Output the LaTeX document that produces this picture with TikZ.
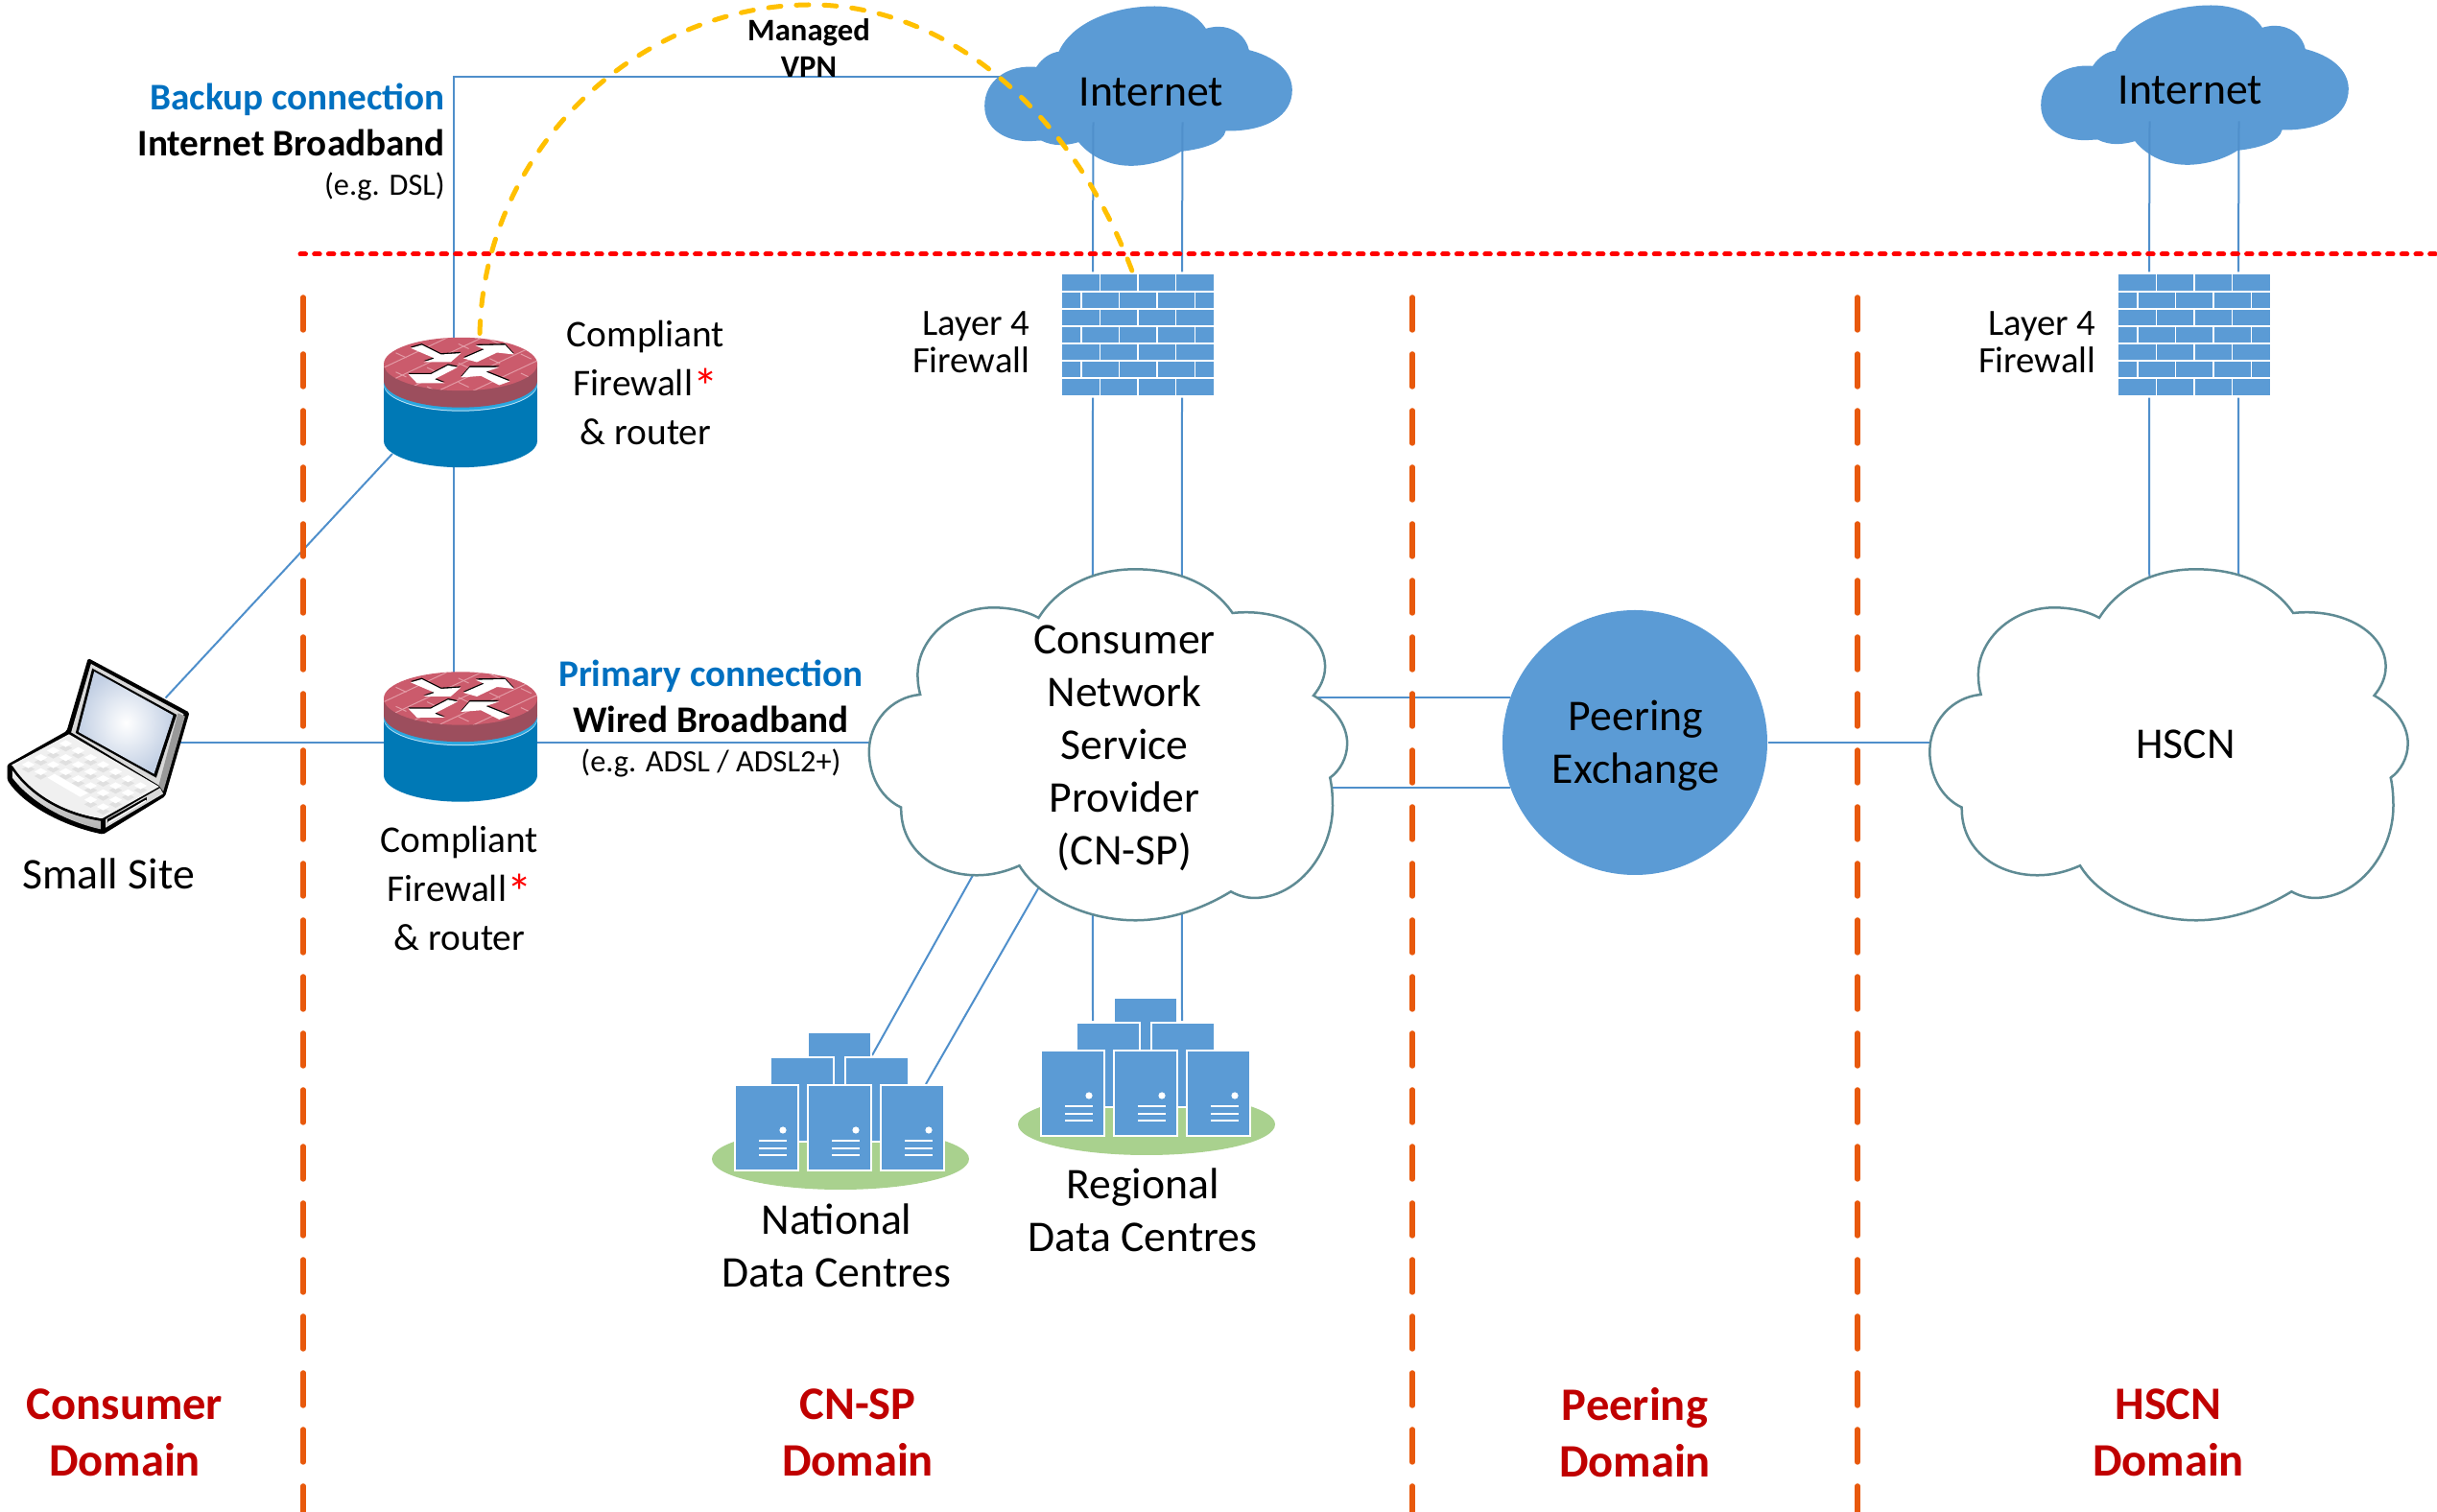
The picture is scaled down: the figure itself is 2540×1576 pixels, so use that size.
\documentclass[tikz,border=0pt]{standalone}
\usepackage{fontspec}
\setmainfont{Carlito}
\usetikzlibrary{calc}

\definecolor{netblue}{HTML}{5B9BD5}
\definecolor{linkblue}{HTML}{4F8FCB}
\definecolor{cloudedge}{HTML}{5F8B94}
\definecolor{labelblue}{HTML}{0070C0}
\definecolor{domainred}{HTML}{C00000}
\definecolor{divorange}{HTML}{E8590C}
\definecolor{vpnyellow}{HTML}{FFC000}
\definecolor{dcgreen}{HTML}{A9D18E}
\definecolor{rtrtop}{HTML}{CB5B6C}
\definecolor{rtrside}{HTML}{9C4E5D}
\definecolor{rtrbrick}{HTML}{E39AA5}
\definecolor{rtrstripe}{HTML}{2AA7E0}
\definecolor{rtrbody}{HTML}{0079B6}
\definecolor{screenblue}{HTML}{C3D0E4}

\newcommand{\lapkey}[2]{
  \fill[black!12] ({205+39*(#1-#2)},{288+22*(#1+#2)}) -- ++(20,11) -- ++(-20,11) -- ++(-20,-11) -- cycle;
  \fill[white] ({205+39*(#1-#2)},{274+22*(#1+#2)}) -- ++(20,11) -- ++(-20,11) -- ++(-20,-11) -- cycle;
}
\newcommand{\redstar}{{\color{red}\raisebox{-0.9mm}{\fontsize{15}{15}\selectfont *}}}

\tikzset{
  slot/.style 2 args={inner sep=0pt, minimum width=#1*0.1mm, minimum height=#2*0.1mm},
  textsize/.style 2 args={font=\fontsize{#1}{#2}\selectfont, inner sep=0pt, align=center},
  boldsize/.style 2 args={font=\fontsize{#1}{#2}\selectfont\bfseries, inner sep=0pt, align=center},
  link/.style={draw=linkblue, line width=0.2mm},
  divider/.style={draw=divorange, line width=0.55mm, line cap=round, dash pattern=on 3.4mm off 2.5mm},
  pics/inetcloud/.style={code={
    \fill[netblue, scale=.3333, shift={(-559,-267)}]
      (240,208) .. controls (150,200) and (78,250) .. (78,330)
      .. controls (78,400) and (140,440) .. (215,440)
      .. controls (230,440) and (245,438) .. (255,438)
      .. controls (275,448) and (295,452) .. (315,452)
      .. controls (335,452) and (355,448) .. (372,443)
      .. controls (410,490) and (470,517) .. (535,517)
      .. controls (590,517) and (650,500) .. (693,472)
      .. controls (760,465) and (825,445) .. (832,408)
      .. controls (960,410) and (1040,360) .. (1040,280)
      .. controls (1040,220) and (985,175) .. (905,155)
      .. controls (895,110) and (855,82) .. (810,82)
      .. controls (795,82) and (780,85) .. (770,88)
      .. controls (740,40) and (680,18) .. (610,18)
      .. controls (480,18) and (350,70) .. (310,160)
      .. controls (285,163) and (258,180) .. (240,208) -- cycle;
  }},
  pics/bigcloud/.style={code={
    \filldraw[draw=cloudedge, fill=white, line width=0.25mm, xscale=.3444, yscale=.3333, shift={(-798,-619)}]
      (588,222) .. controls (650,120) and (760,70) .. (880,70)
      .. controls (1000,70) and (1110,110) .. (1175,207)
      .. controls (1330,190) and (1455,270) .. (1455,375)
      .. controls (1455,410) and (1440,440) .. (1420,465)
      .. controls (1480,500) and (1522,555) .. (1522,615)
      .. controls (1522,660) and (1500,700) .. (1470,722)
      .. controls (1476,750) and (1478,780) .. (1478,810)
      .. controls (1478,960) and (1370,1098) .. (1240,1098)
      .. controls (1215,1098) and (1190,1090) .. (1170,1078)
      .. controls (1080,1135) and (980,1168) .. (880,1168)
      .. controls (740,1168) and (590,1100) .. (530,997)
      .. controls (490,1015) and (450,1027) .. (400,1027)
      .. controls (280,1027) and (170,950) .. (172,815)
      .. controls (110,785) and (75,715) .. (75,640)
      .. controls (75,550) and (140,470) .. (230,462)
      .. controls (224,440) and (222,420) .. (222,400)
      .. controls (222,285) and (330,190) .. (450,190)
      .. controls (500,190) and (550,200) .. (588,222) -- cycle;
  }},
  pics/firewall/.style={code={
    \fill[netblue] (-79,-63) rectangle (79,63);
    \foreach \k in {1,...,6}
      \draw[white, line width=0.15mm] (-79,-63+18*\k) -- (79,-63+18*\k);
    \foreach \k in {0,2,4,6}
      \foreach \m in {1,2,3}
        \draw[white, line width=0.15mm] (-79+39.5*\m,-63+18*\k) -- ++(0,18);
    \foreach \k in {1,3,5}
      \foreach \m in {0,1,2,3}
        \draw[white, line width=0.15mm] (-59.25+39.5*\m,-63+18*\k) -- ++(0,18);
  }},
  pics/routericon/.style={code={
    % Body and coloured bands
    \fill[rtrbody] (0,40) ellipse [x radius=80, y radius=27.7];
    \fill[rtrbody] (-80,-20) rectangle (80,40);
    \fill[white!70!rtrstripe] (0,-18.5) ellipse [x radius=80, y radius=27.7];
    \fill[rtrstripe] (0,-19.5) ellipse [x radius=80, y radius=27.7];
    \fill[rtrside] (0,-22.5) ellipse [x radius=80, y radius=27.7];
    \fill[rtrside] (-80,-40) rectangle (80,-22.5);
    \fill[rtrtop] (0,-40) ellipse [x radius=80, y radius=27.7];
    % Bricks on the lid
    \begin{scope}
      \clip (0,-40) ellipse [x radius=80, y radius=27.7];
      \foreach \k in {-3,...,3}
        \draw[rtrbrick, line width=0.1mm] (-100,{-40+\k*17+47}) -- (100,{-40+\k*17-47});
      \foreach \k in {-3,...,3}
        \draw[rtrbrick, line width=0.1mm, dash pattern=on 1.2mm off 2.4mm] (-100,{-40+\k*20-47}) -- (100,{-40+\k*20+47});
    \end{scope}
    % Arrows
    \begin{scope}[shift={(0,-40)}, scale=.3333, shift={(-271,-118)}]
      \foreach \col/\up in {black/-4,white/0} {
        \fill[\col, shift={(0,\up)}] (115,68) -- (150,58) -- (210,88) -- (272,84) -- (240,112) -- (155,112) -- (190,100) -- cycle;
        \fill[\col, shift={(0,\up)}] (280,100) -- (345,72) -- (318,60) -- (410,58) -- (438,88) -- (385,82) -- (322,112) -- cycle;
        \fill[\col, shift={(0,\up)}] (262,128) -- (232,122) -- (178,150) -- (108,150) -- (135,178) -- (222,178) -- (190,165) -- cycle;
        \fill[\col, shift={(0,\up)}] (425,172) -- (392,184) -- (335,155) -- (272,160) -- (300,128) -- (392,128) -- (350,142) -- cycle;
      }
    \end{scope}
  }},
  pics/datacentre/.style={code={
    \fill[dcgreen] (0,0) ellipse [x radius=134, y radius=32];
    \filldraw[fill=netblue, draw=white, line width=0.15mm] (-34,-132) rectangle (32,-18);
    \filldraw[fill=netblue, draw=white, line width=0.15mm] (-73,-106) rectangle (-7,-18);
    \filldraw[fill=netblue, draw=white, line width=0.15mm] (5,-106) rectangle (71,-18);
    \foreach \x in {-110,-34,42} {
      \filldraw[fill=netblue, draw=white, line width=0.15mm] (\x,-77) rectangle ++(66,89);
      \fill[white] (\x+50,-30) circle [radius=3.6];
      \foreach \y in {-19,-11,-4}
        \draw[white, line width=0.22mm] (\x+25,\y) -- ++(29,0);
    }
  }},
  pics/laptop/.style={code={
    \begin{scope}[scale=.3333, shift={(-307,-291)}]
      % Outline
      \fill[black, rounded corners=0.5pt] (275,18) -- (592,188) -- (516,450) -- (322,569)
        .. controls (190,542) and (68,472) .. (22,398) -- (22,351) -- (208,246) -- cycle;
      % Lid
      \fill[black!15] (284,36) -- (574,193) -- (500,418) -- (222,250) -- cycle;
      \fill[black!40] (556,190) -- (578,200) -- (510,435) -- (496,415) -- cycle;
      \fill[black] (288,50) -- (552,195) -- (488,392) -- (236,252) -- cycle;
      \shade[inner color=white, outer color=screenblue] (294,60) -- (541,197) -- (481,380) -- (245,249) -- cycle;
      % Base
      \fill[black!6] (36,352) -- (215,256) -- (497,420) -- (318,520)
        .. controls (190,500) and (90,440) .. (36,352) -- cycle;
      \foreach \i in {0,...,6}
        \foreach \j in {0,1,2}
          {\lapkey{\i}{\j}}
      \foreach \i in {0,1,5,6}
        {\lapkey{\i}{3}}
      \fill[white] (148,392) -- (170,380) -- (275,440) -- (250,452) -- cycle;
      % Front edge
      \shade[top color=black!5, bottom color=black!30] (38,368)
        .. controls (90,440) and (190,505) .. (314,526) -- (314,553)
        .. controls (190,525) and (90,460) .. (38,392) -- cycle;
      \draw[black, line width=0.25mm] (36,358) .. controls (90,440) and (190,505) .. (318,524);
      \fill[black!15] (330,522) -- (500,424) -- (510,442) -- (330,548) -- cycle;
      \fill[black] (335,522) -- (458,453) -- (458,462) -- (335,534) -- cycle;
      \fill[white] (337,530) -- (456,461) -- (456,465) -- (337,536) -- cycle;
      \draw[black, line width=0.3mm] (322,520) -- (322,564);
    \end{scope}
  }}
}

\begin{document}
\begin{tikzpicture}[x=0.1mm, y=-0.1mm]
  \useasboundingbox (0,0) rectangle (2540,1576);

  % Icon places
  \node[slot={189}{182}] (laptop) at (102.5,777) {};
  \node[slot={160}{135}] (rtrA) at (480,419.5) {};
  \node[slot={160}{135}] (rtrB) at (480,768) {};
  \node[slot={321}{167}] (inetA) at (1186.5,89.5) {};
  \node[slot={321}{167}] (inetB) at (2287.5,88.5) {};
  \node[slot={158}{126}] (fwA) at (1186,349) {};
  \node[slot={158}{126}] (fwB) at (2287,349) {};
  \node[slot={498}{366}] (cnsp) at (1154.8,776.3) {};
  \node[slot={498}{366}] (hscn) at (2260.3,776.3) {};
  \node[slot={268}{172}] (dcNat) at (876,1208) {};
  \node[slot={268}{172}] (dcReg) at (1195,1172) {};

  % Peering
  \node[circle, fill=netblue, inner sep=0pt, minimum size=27.6mm] (peer) at (1704,774) {};

  % Connections
  \draw[link] ($(rtrA)+(-7,0)$) |- ($(inetA)+(0,-9)$);
  \draw[link] ($(rtrA)+(-7,0)$) -- ($(rtrB)+(-7,0)$);
  \draw[link] ($(laptop)+(70,-49.5)$) -- ($(rtrA)+(-71,53.5)$);
  \draw[link] ($(laptop)+(0,-3)$) -- ($(rtrB)+(0,6)$);
  \draw[link] ($(rtrB)+(0,6)$) -- ($(cnsp)+(0,-2.3)$);
  \draw[link] ($(fwA.south)+(-47,2)$) -- ($(cnsp)+(-16,-120)$);
  \draw[link] ($(fwA.south)+(46,2)$) -- ($(cnsp)+(77,-120)$);
  \draw[link] ($(fwB.south)+(-47,2)$) -- ($(hscn)+(-20,-120)$);
  \draw[link] ($(fwB.south)+(46,2)$) -- ($(hscn)+(73,-120)$);
  \draw[link] ($(cnsp)+(-119,97)$) -- ($(dcNat)+(33,-108)$);
  \draw[link] ($(cnsp)+(-51,112)$) -- ($(dcNat)+(89,-78)$);
  \draw[link] ($(cnsp)+(-16,100)$) -- ($(dcReg)+(-56,-108)$);
  \draw[link] ($(cnsp)+(77,100)$) -- ($(dcReg)+(37,-108)$);
  \draw[link] (cnsp.center |- peer.160) -- (peer.160);
  \draw[link] (cnsp.center |- peer.200) -- (peer.200);
  \draw[link] (peer.east) -- (peer.east -| hscn.center);

  % Icons
  \pic at (laptop.center) {laptop};
  \pic at (rtrA.center) {routericon};
  \pic at (rtrB.center) {routericon};
  \pic at (inetA.center) {inetcloud};
  \pic at (inetB.center) {inetcloud};
  \pic at (fwA.center) {firewall};
  \pic at (fwB.center) {firewall};
  \pic at (cnsp.center) {bigcloud};
  \pic at (hscn.center) {bigcloud};
  \pic at (dcNat.center) {datacentre};
  \pic at (dcReg.center) {datacentre};

  % Firewall to Internet
  \draw[link] ($(fwA.north)+(-47,-2)$) -- ($(inetA)+(-47,38)$);
  \draw[link] ($(fwA.north)+(46,-2)$) -- ($(inetA)+(46,38)$);
  \draw[link] ($(fwB.north)+(-47,-2)$) -- ($(inetB)+(-47,38)$);
  \draw[link] ($(fwB.north)+(46,-2)$) -- ($(inetB)+(46,38)$);

  % Domain borders
  \coordinate (borderL) at (313,265);
  \coordinate (borderR) at (2540,265);
  \draw[red, line width=0.5mm, line cap=round, dash pattern=on 0.55mm off 0.92mm] (borderL) -- (borderR);
  \draw[divider] (316,310) -- (316,1576);
  \draw[divider] (1472,310) -- (1472,1576);
  \draw[divider] (1936,310) -- (1936,1576);

  % Managed VPN
  \draw[vpnyellow, line width=0.5mm, line cap=round, dash pattern=on 1.3mm off 1.6mm]
    ($(rtrA)+(20,-72)$) .. controls (505,150) and (670,5) .. (845,5)
    .. controls (990,5) and (1120,120) .. ($(fwA.north)+(-5,0)$);

  % Labels
  \node[boldsize={9.3}{10.8}] (vpnTxt) at (843,50) {Managed\\VPN};
  \node[boldsize={11.15}{12}, anchor=east, text=labelblue] (backupTxt) at (464.5,104) {Backup connection};
  \node[boldsize={11.15}{12}, anchor=east] (inetBbTxt) at (464.5,149) {Internet Broadband};
  \node[textsize={9.2}{11}, anchor=east] (dslTxt) at (464.5,194) {(e.g. DSL)};
  \node[boldsize={11.15}{12}, text=labelblue] (primaryTxt) at (741,705) {Primary connection};
  \node[boldsize={11.15}{12}] (wiredTxt) at (741,750) {Wired Broadband};
  \node[textsize={9.2}{11}] (adslTxt) at (741,795) {(e.g. ADSL / ADSL2+)};
  \node[textsize={11.2}{14.5}] (rtrATxt) at (673,399) {Compliant\\Firewall\redstar\\\& router};
  \node[textsize={11.2}{14.5}] (rtrBTxt) at (479,926) {Compliant\\Firewall\redstar\\\& router};
  \node[textsize={13}{15.6}] (siteTxt) at (113,911) {Small Site};
  \node[textsize={13}{15.6}] (inetATxt) at (1200,96) {Internet};
  \node[textsize={13}{15.6}] (inetBTxt) at (2283,94) {Internet};
  \node[textsize={11}{11.1}, align=right, anchor=east] (fwATxt) at (1074,357) {Layer 4\\Firewall};
  \node[textsize={11}{11.1}, align=right, anchor=east] (fwBTxt) at (2185,357) {Layer 4\\Firewall};
  \node[textsize={13}{15.6}] (cnspTxt) at (1172,780) {Consumer\\Network\\Service\\Provider\\(CN-SP)};
  \node[textsize={13}{15.6}] (peerTxt) at (1705,777) {Peering\\Exchange};
  \node[textsize={13}{15.6}] (hscnTxt) at (2278,776) {HSCN};
  \node[textsize={13}{15.6}] (dcNatTxt) at (872,1298) {National\\Data Centres};
  \node[textsize={13}{15.6}] (dcRegTxt) at (1191,1261) {Regional\\Data Centres};

  % Domain names
  \node[boldsize={13.8}{16.8}, text=domainred] (domA) at (130,1493) {Consumer\\Domain};
  \node[boldsize={13.8}{16.8}, text=domainred] (domB) at (894,1493) {CN-SP\\Domain};
  \node[boldsize={13.8}{16.8}, text=domainred] (domC) at (1704,1493) {Peering\\Domain};
  \node[boldsize={13.8}{16.8}, text=domainred] (domD) at (2260,1493) {HSCN\\Domain};

\end{tikzpicture}
\end{document}
